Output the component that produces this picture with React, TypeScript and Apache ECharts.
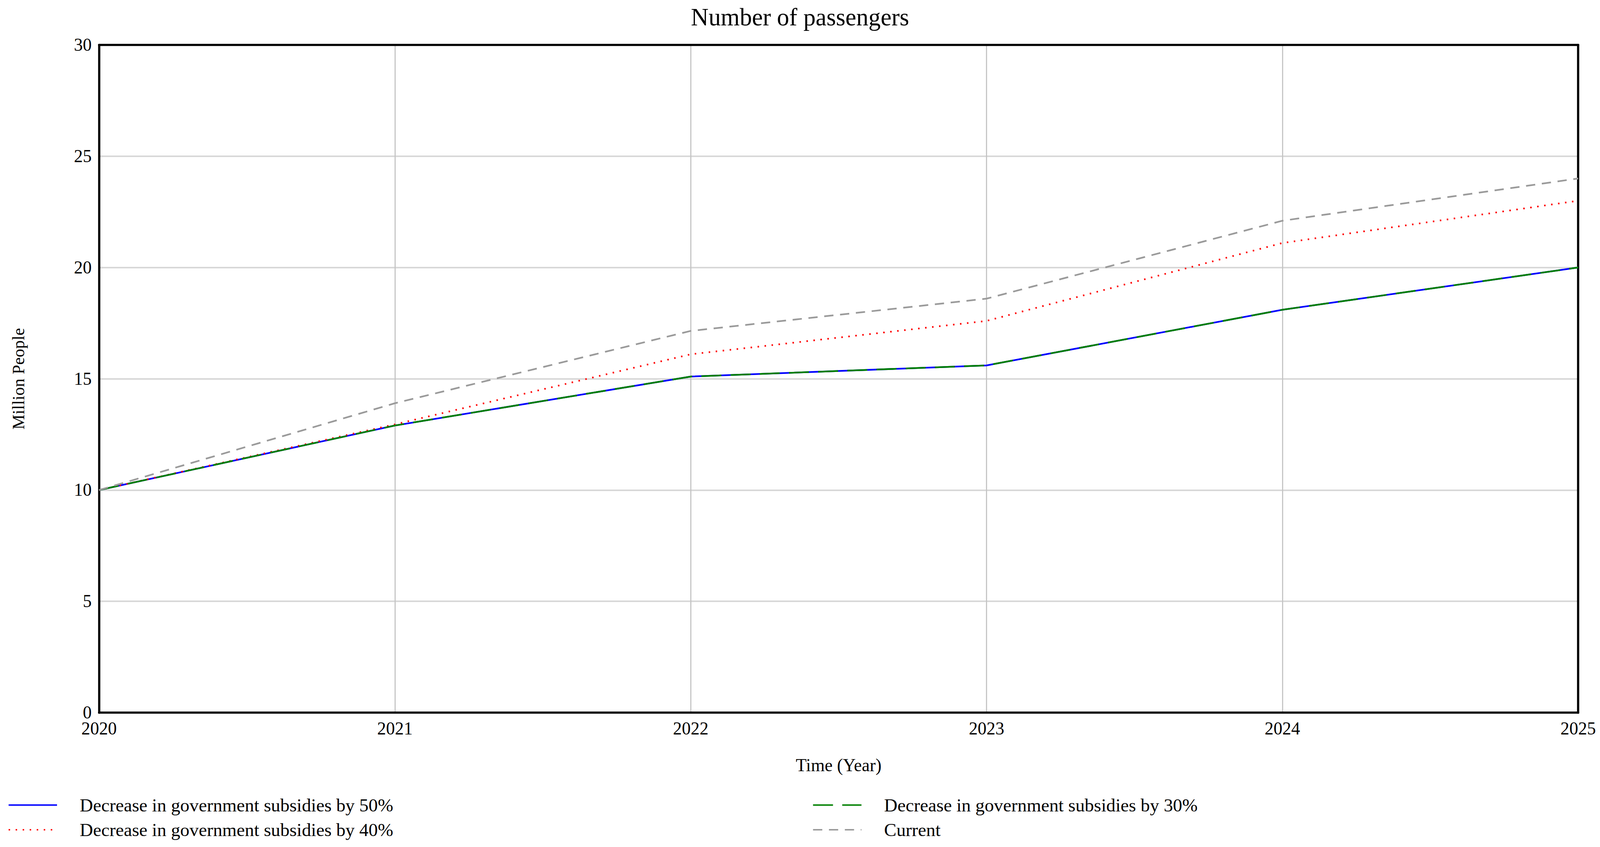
import React, { useEffect, useRef } from "react";
import * as echarts from "echarts";

const YEARS = [2020, 2021, 2022, 2023, 2024, 2025];
const SUB50 = [10, 12.9, 15.1, 15.6, 18.1, 20];
const SUB40 = [10, 12.95, 16.1, 17.6, 21.1, 23.0];
const SUB30 = [10, 12.9, 15.1, 15.6, 18.1, 20];
const CURRENT = [10, 13.9, 17.15, 18.6, 22.1, 24.0];

const NAMES = [
  "Decrease in government subsidies by 50%",
  "Decrease in government subsidies by 40%",
  "Decrease in government subsidies by 30%",
  "Current",
];

const FONT = "Liberation Serif";

const pairs = (ys: number[]) => YEARS.map((x, i) => [x, ys[i]]);

export default function App() {
  const ref = useRef<HTMLDivElement>(null);
  useEffect(() => {
    const el = ref.current;
    if (!el) return;
    const W = el.clientWidth || 4328;
    const H = el.clientHeight || 2168;
    const sx = W / 4328;
    const sy = H / 2168;
    const s = Math.min(sx, sy);
    const X = (v: number) => v * sx;
    const Y = (v: number) => v * sy;
    const F = (v: number) => v * s;
    const chart = echarts.init(el, null, { renderer: "svg" });
    const frameLine = { show: true, onZero: false, lineStyle: { color: "#000", width: F(6) } };
    const legendCommon = {
      orient: "vertical",
      itemWidth: X(131),
      itemHeight: F(20),
      itemGap: Y(16),
      top: Y(2032),
      itemStyle: { opacity: 0 },
      lineStyle: { width: F(4) },
      textStyle: {
        fontFamily: FONT,
        fontSize: F(50),
        lineHeight: F(50),
        color: "#000",
        padding: [0, 0, 0, X(56)],
      },
    };
    chart.setOption({
      animation: false,
      backgroundColor: "#fff",
      title: {
        text: "Number of passengers",
        left: "center",
        top: Y(8),
        textStyle: { fontFamily: FONT, fontSize: F(66), fontWeight: "normal", color: "#000" },
      },
      grid: { left: X(268), right: X(59), top: Y(115), bottom: Y(344), containLabel: false, outerBoundsMode: "none" },
      legend: [
        { ...legendCommon, left: X(16), data: [NAMES[0], NAMES[1]] },
        { ...legendCommon, left: X(2192), data: [NAMES[2], NAMES[3]] },
      ],
      xAxis: [
        {
          type: "value",
          min: 2020,
          max: 2025,
          interval: 1,
          name: "Time (Year)",
          nameLocation: "middle",
          nameGap: Y(112),
          nameTextStyle: { fontFamily: FONT, fontSize: F(48), color: "#000" },
          axisLine: frameLine,
          axisTick: { show: false },
          axisLabel: {
            fontFamily: FONT,
            fontSize: F(48),
            color: "#000",
            margin: Y(18),
            formatter: (v: number) => String(v),
          },
          splitLine: {
            show: true,
            showMinLine: false,
            showMaxLine: false,
            lineStyle: { color: "#c4c4c4", width: F(3) },
          },
        },
        {
          type: "value",
          position: "top",
          min: 2020,
          max: 2025,
          interval: 1,
          axisLine: frameLine,
          axisTick: { show: false },
          axisLabel: { show: false },
          splitLine: { show: false },
        },
      ],
      yAxis: [
        {
          type: "value",
          min: 0,
          max: 30,
          interval: 5,
          name: "Million People",
          nameLocation: "middle",
          nameGap: X(195),
          nameTextStyle: { fontFamily: FONT, fontSize: F(46), color: "#000" },
          axisLine: frameLine,
          axisTick: { show: false },
          axisLabel: { fontFamily: FONT, fontSize: F(48), color: "#000", margin: X(20) },
          splitLine: {
            show: true,
            showMinLine: false,
            showMaxLine: false,
            lineStyle: { color: "#d8d8d8", width: F(4) },
          },
        },
        {
          type: "value",
          position: "right",
          min: 0,
          max: 30,
          interval: 5,
          axisLine: frameLine,
          axisTick: { show: false },
          axisLabel: { show: false },
          splitLine: { show: false },
        },
      ],
      series: [
        {
          name: NAMES[0],
          type: "line",
          data: pairs(SUB50),
          symbol: "none",
          lineStyle: { color: "#0000ff", width: F(4.5), type: "solid" },
          itemStyle: { color: "#0000ff" },
        },
        {
          name: NAMES[1],
          type: "line",
          data: pairs(SUB40),
          symbol: "none",
          lineStyle: { color: "#ff0000", width: F(4.5), type: [F(4), F(15)] },
          itemStyle: { color: "#ff0000" },
        },
        {
          name: NAMES[2],
          type: "line",
          data: pairs(SUB30),
          symbol: "none",
          lineStyle: { color: "#008000", width: F(4.5), type: [F(54), F(25)] },
          itemStyle: { color: "#008000" },
        },
        {
          name: NAMES[3],
          type: "line",
          data: pairs(CURRENT),
          symbol: "none",
          lineStyle: { color: "#9a9a9a", width: F(4.5), type: [F(25), F(18)] },
          itemStyle: { color: "#9a9a9a" },
        },
      ],
    });
    return () => chart.dispose();
  }, []);
  return (
    <div
      ref={ref}
      style={{ position: "fixed", left: 0, top: 0, width: "100vw", height: "100vh", background: "#fff" }}
    />
  );
}
